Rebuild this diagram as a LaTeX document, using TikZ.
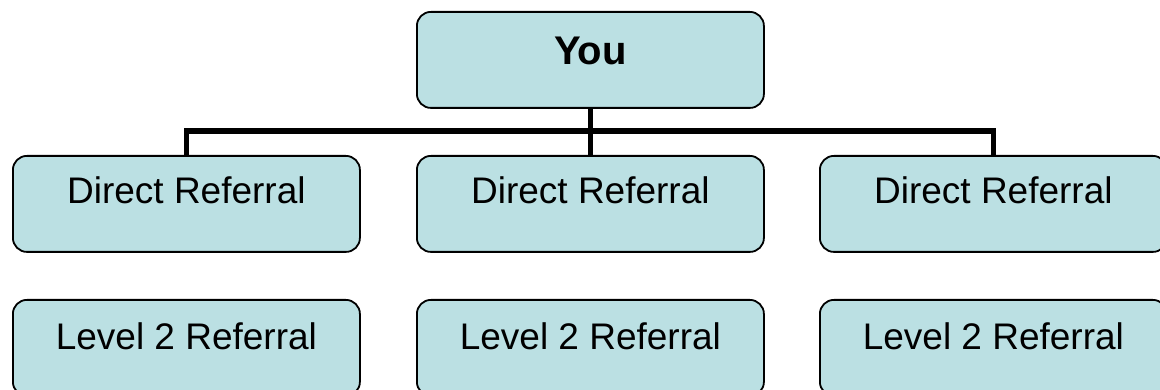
\documentclass[tikz,border=0pt]{standalone}
\usepackage{fontspec}
\setmainfont{Liberation Sans}
\usetikzlibrary{backgrounds}
\definecolor{boxfill}{HTML}{BBE0E3}
\begin{document}
\begin{tikzpicture}[x=1pt,y=-1pt,
  card/.style={draw=black,line width=1.8pt,fill=boxfill,rounded corners=14pt,
    minimum width=347pt,minimum height=96pt,inner sep=0pt,anchor=north west},
  lbl/.style={font=\fontsize{37}{44}\selectfont,anchor=base},
  tree/.style={draw=black,line width=5.5pt}]
\useasboundingbox (0,0) rectangle (1160,390);
\clip (0,0) rectangle (1160,390);
% boxes
\node[card] (you) at (416,11) {};
\node[card] (d1) at (12,155) {};
\node[card] (d2) at (416,155) {};
\node[card] (d3) at (819,155) {};
\node[card] (l1) at (12,299) {};
\node[card] (l2) at (416,299) {};
\node[card] (l3) at (819,299) {};
% labels
\node[lbl,font=\fontsize{40}{48}\selectfont\bfseries] (tyou) at ([yshift=-54pt]you.north) {You};
\node[lbl] (td1) at ([yshift=-49pt]d1.north) {Direct Referral};
\node[lbl] (td2) at ([yshift=-49pt]d2.north) {Direct Referral};
\node[lbl] (td3) at ([yshift=-49pt]d3.north) {Direct Referral};
\node[lbl] (tl1) at ([yshift=-50pt]l1.north) {Level 2 Referral};
\node[lbl] (tl2) at ([yshift=-50pt]l2.north) {Level 2 Referral};
\node[lbl] (tl3) at ([yshift=-50pt]l3.north) {Level 2 Referral};
% connectors
\coordinate (bar) at (589,131);
\begin{scope}[on background layer]
\draw[tree] (you.south) -- (d2.north);
\draw[tree,line cap=rect] (d1.north) -- (d1.north |- bar) -- (d3.north |- bar) -- (d3.north);
\end{scope}
\end{tikzpicture}
\end{document}
